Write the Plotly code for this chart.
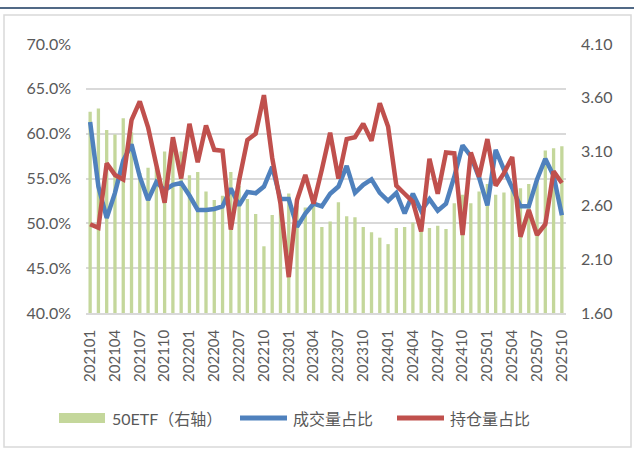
import plotly.graph_objects as go

months = [f"{y}{m:02d}" for y in range(2021, 2026) for m in range(1, 13)][:58]
tick_labels = months[::3]

etf50 = [3.47, 3.50, 3.30, 3.26, 3.41, 3.28, 2.90, 2.95, 2.95, 3.10,
         3.12, 3.10, 2.88, 2.91, 2.73, 2.65, 2.69, 2.91, 2.78, 2.66,
         2.52, 2.22, 2.51, 2.68, 2.71, 2.60, 2.58, 2.62, 2.40, 2.45,
         2.63, 2.50, 2.49, 2.40, 2.35, 2.30, 2.24, 2.39, 2.40, 2.44,
         2.37, 2.39, 2.41, 2.38, 2.62, 2.70, 2.62, 2.73, 2.80, 2.70,
         2.72, 2.74, 2.76, 2.80, 2.85, 3.11, 3.13, 3.15]

volume_share = [61.3, 54.1, 50.6, 53.4, 57.0, 58.8, 55.2, 52.6, 54.6, 53.7,
                54.3, 54.5, 53.1, 51.5, 51.5, 51.6, 51.9, 53.9, 52.0, 53.5,
                53.35, 54.1, 56.3, 52.7, 52.7, 49.6, 51.1, 52.2, 51.9, 53.3,
                54.1, 56.4, 53.4, 54.3, 54.9, 53.4, 52.5, 53.4, 51.1, 53.3,
                51.4, 52.7, 51.4, 52.2, 55.2, 58.7, 57.5, 55.1, 52.0, 58.2,
                56.0, 53.9, 51.9, 51.9, 54.9, 57.2, 55.3, 50.9]

oi_share = [49.9, 49.5, 56.7, 55.4, 54.9, 61.5, 63.6, 60.7, 56.5, 52.3,
            59.6, 55.0, 61.1, 56.8, 60.9, 58.2, 58.1, 49.3, 54.8, 59.3,
            60.0, 64.3, 57.3, 52.2, 44.0, 52.6, 55.4, 52.2, 56.0, 60.1,
            55.0, 59.4, 59.6, 61.1, 59.2, 63.4, 60.8, 54.2, 53.3, 52.4,
            49.1, 57.2, 53.3, 57.9, 57.8, 48.7, 57.9, 55.2, 59.4, 54.2,
            55.6, 57.4, 48.5, 51.5, 48.7, 49.9, 55.8, 54.5]

names = ["50ETF（右轴）", "成交量占比", "持仓量占比"]
colors = ["#C4D79B", "#4F81BD", "#C0504D"]

W, H = 634, 450
L, R, T, B = 86, 566, 44, 313

def px(x):
    return (x - L) / (R - L)

def py(y):
    return (B - y) / (B - T)

FONT = "Lato, 'Noto Sans CJK SC', sans-serif"
TXT = "#595959"

fig = go.Figure()
fig.add_trace(go.Bar(x=months, y=etf50, name=names[0], marker_color=colors[0],
                     marker_line_width=0, yaxis="y"))
fig.add_trace(go.Scatter(x=months, y=volume_share, name=names[1], mode="lines",
                         line=dict(color=colors[1], width=4.5), yaxis="y2"))
fig.add_trace(go.Scatter(x=months, y=oi_share, name=names[2], mode="lines",
                         line=dict(color=colors[2], width=4.5), yaxis="y2"))

shapes = [
    # outer frame
    dict(type="rect", xref="paper", yref="paper", x0=px(4), x1=px(631), y0=py(15), y1=py(447),
         line=dict(color="#D9D9D9", width=1.5), fillcolor="rgba(0,0,0,0)", layer="below"),
    # title rule
    dict(type="line", xref="paper", yref="paper", x0=px(0), x1=px(634), y0=py(8), y1=py(8),
         line=dict(color="#17375E", width=1.5)),
    # legend swatches
    dict(type="rect", xref="paper", yref="paper", x0=px(59), x1=px(105), y0=py(423), y1=py(413),
         line=dict(width=0), fillcolor=colors[0]),
    dict(type="line", xref="paper", yref="paper", x0=px(240), x1=px(287), y0=py(418), y1=py(418),
         line=dict(color=colors[1], width=5)),
    dict(type="line", xref="paper", yref="paper", x0=px(397), x1=px(444), y0=py(418), y1=py(418),
         line=dict(color=colors[2], width=5)),
]
annotations = [
    dict(text=names[0], x=px(110), y=py(418), xref="paper", yref="paper", xanchor="left",
         yanchor="middle", showarrow=False, font=dict(size=16, color=TXT, family=FONT)),
    dict(text=names[1], x=px(291), y=py(418), xref="paper", yref="paper", xanchor="left",
         yanchor="middle", showarrow=False, font=dict(size=16, color=TXT, family=FONT)),
    dict(text=names[2], x=px(448), y=py(418), xref="paper", yref="paper", xanchor="left",
         yanchor="middle", showarrow=False, font=dict(size=16, color=TXT, family=FONT)),
]

fig.update_layout(
    width=W, height=H,
    margin=dict(l=L, r=W - R, t=T, b=H - B, autoexpand=False),
    paper_bgcolor="white", plot_bgcolor="white",
    showlegend=False,
    bargap=0.6,
    font=dict(family=FONT, size=16, color=TXT),
    xaxis=dict(type="category", categoryorder="array", categoryarray=months,
               tickmode="array", tickvals=tick_labels, ticktext=tick_labels,
               tickangle=-90, ticks="", showgrid=False, showline=True,
               linecolor="#D9D9D9", linewidth=1.5, ticklabelstandoff=9,
               tickfont=dict(size=15, color=TXT, family=FONT)),
    yaxis=dict(side="right", range=[1.6, 4.1], tick0=1.6, dtick=0.5, tickformat=".2f",
               showgrid=False, zeroline=False, ticks="", ticklabelstandoff=14,
               tickfont=dict(size=16, color=TXT, family=FONT)),
    yaxis2=dict(side="left", overlaying="y", range=[40, 70], tick0=40, dtick=5,
                tickformat=".1f", ticksuffix="%", showgrid=True, gridcolor="#D9D9D9",
                gridwidth=1.5, zeroline=False, ticks="", ticklabelstandoff=14,
                tickfont=dict(size=16, color=TXT, family=FONT)),
    shapes=shapes,
    annotations=annotations,
)

fig.write_html("out.html", config={"displayModeBar": False},
               post_script="document.body.style.margin='0';")
